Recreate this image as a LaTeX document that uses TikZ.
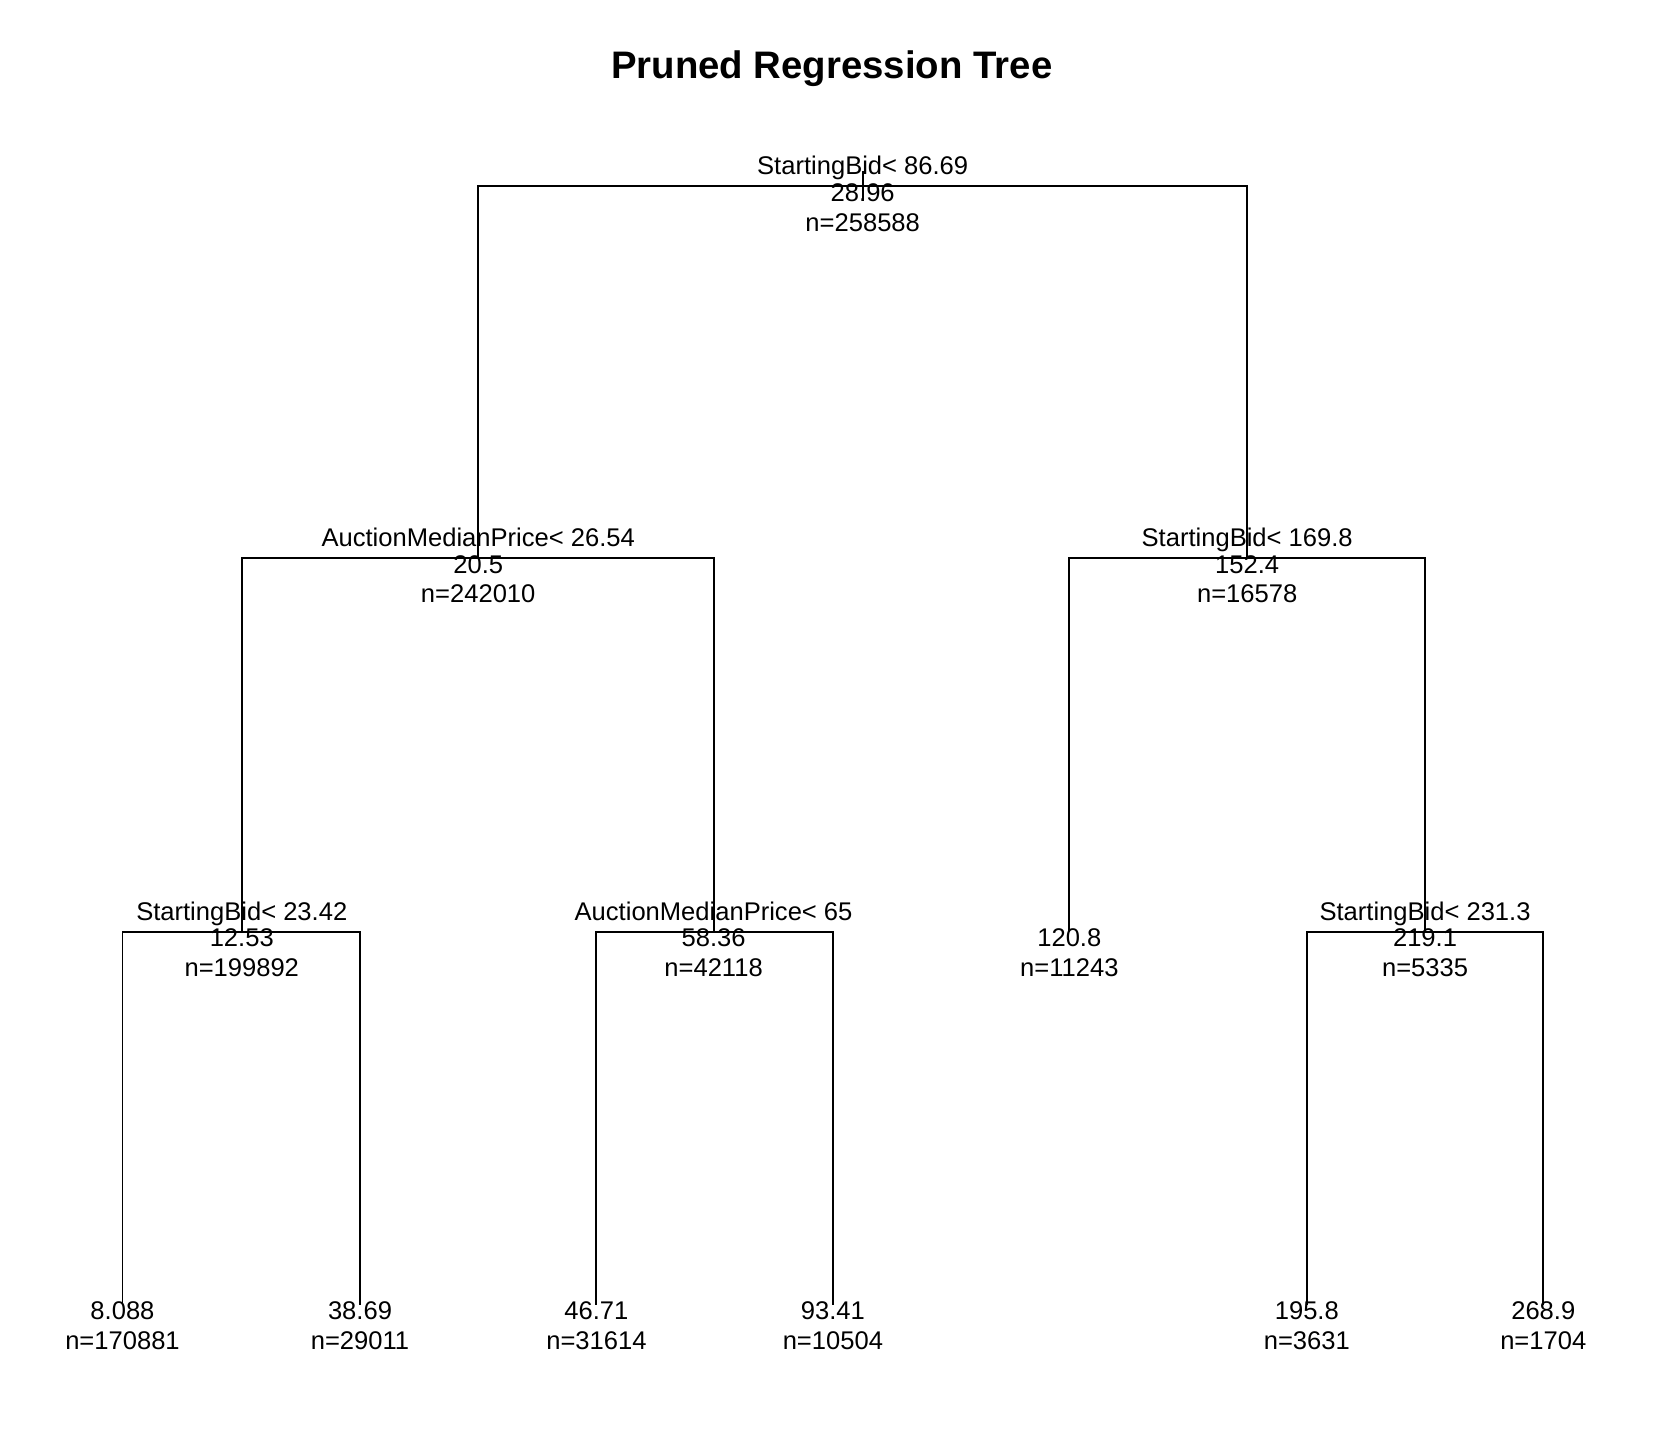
\documentclass[tikz,border=0pt]{standalone}
\usepackage{fontspec}
\setmainfont{Liberation Sans}
\usepackage{tikz}
\usetikzlibrary{calc, positioning}
\tikzset{
  txt/.style={anchor=base, inner sep=0pt, font=\fontsize{24}{28}\selectfont},
  titletxt/.style={anchor=base, inner sep=0pt, font=\fontsize{36}{42}\selectfont\bfseries},
  branch/.style={line width=1.8pt, color=black}
}

\begin{document}
\begin{tikzpicture}[x=1pt, y=-1pt]
  \useasboundingbox (0,0) rectangle (1568,1358);
  \node[titletxt] (title) at (781,74) {Pruned Regression Tree};

  % split points
  \coordinate (n1) at (810,175);
  \coordinate (n2) at (449,524);
  \coordinate (n3) at (1171,524);
  \coordinate (n4) at (227,875);
  \coordinate (n5) at (670,875);
  \coordinate (n6) at (1004,875);
  \coordinate (n7) at (1338,875);
  \coordinate (n8) at (115,1225);
  \coordinate (n9) at (338,1225);
  \coordinate (n10) at (560,1225);
  \coordinate (n11) at (782,1225);
  \coordinate (n12) at (1227,1225);
  \coordinate (n13) at (1449,1225);
  \coordinate (rtop) at (810,161);
  \coordinate (rbot) at (810,189);

  \draw[branch] (rtop) -- (rbot);
  \draw[branch] (n2) |- (n1) -| (n3);
  \draw[branch] (n4) |- (n2) -| (n5);
  \draw[branch] (n6) |- (n3) -| (n7);
  \draw[branch] (n8) |- (n4) -| (n9);
  \draw[branch] (n10) |- (n5) -| (n11);
  \draw[branch] (n12) |- (n7) -| (n13);

  % root
  \node[txt] (s1) at ($(n1)+(0,-11)$) {StartingBid< 86.69};
  \node[txt] (v1) at ($(n1)+(0,14)$) {28.96};
  \node[txt] (c1) at ($(n1)+(0,42)$) {n=258588};

  % second level
  \node[txt] (s2) at ($(n2)+(0,-11)$) {AuctionMedianPrice< 26.54};
  \node[txt] (v2) at ($(n2)+(0,14)$) {20.5};
  \node[txt] (c2) at ($(n2)+(0,42)$) {n=242010};
  \node[txt] (s3) at ($(n3)+(0,-11)$) {StartingBid< 169.8};
  \node[txt] (v3) at ($(n3)+(0,14)$) {152.4};
  \node[txt] (c3) at ($(n3)+(0,42)$) {n=16578};

  % third level
  \node[txt] (s4) at ($(n4)+(0,-11)$) {StartingBid< 23.42};
  \node[txt] (v4) at ($(n4)+(0,14)$) {12.53};
  \node[txt] (c4) at ($(n4)+(0,42)$) {n=199892};
  \node[txt] (s5) at ($(n5)+(0,-11)$) {AuctionMedianPrice< 65};
  \node[txt] (v5) at ($(n5)+(0,14)$) {58.36};
  \node[txt] (c5) at ($(n5)+(0,42)$) {n=42118};
  \node[txt] (v6) at ($(n6)+(0,14)$) {120.8};
  \node[txt] (c6) at ($(n6)+(0,42)$) {n=11243};
  \node[txt] (s7) at ($(n7)+(0,-11)$) {StartingBid< 231.3};
  \node[txt] (v7) at ($(n7)+(0,14)$) {219.1};
  \node[txt] (c7) at ($(n7)+(0,42)$) {n=5335};

  % leaves
  \node[txt] (v8) at ($(n8)+(0,14)$) {8.088};
  \node[txt] (c8) at ($(n8)+(0,42)$) {n=170881};
  \node[txt] (v9) at ($(n9)+(0,14)$) {38.69};
  \node[txt] (c9) at ($(n9)+(0,42)$) {n=29011};
  \node[txt] (v10) at ($(n10)+(0,14)$) {46.71};
  \node[txt] (c10) at ($(n10)+(0,42)$) {n=31614};
  \node[txt] (v11) at ($(n11)+(0,14)$) {93.41};
  \node[txt] (c11) at ($(n11)+(0,42)$) {n=10504};
  \node[txt] (v12) at ($(n12)+(0,14)$) {195.8};
  \node[txt] (c12) at ($(n12)+(0,42)$) {n=3631};
  \node[txt] (v13) at ($(n13)+(0,14)$) {268.9};
  \node[txt] (c13) at ($(n13)+(0,42)$) {n=1704};
\end{tikzpicture}
\end{document}
